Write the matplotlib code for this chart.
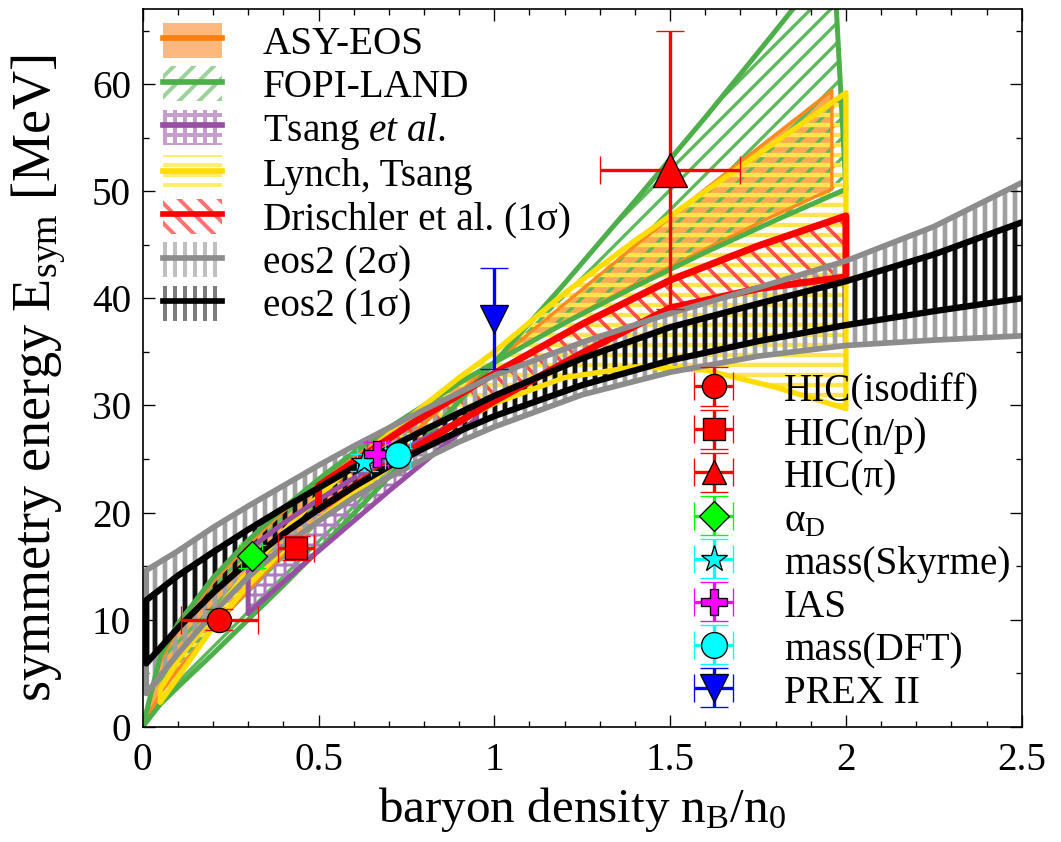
import numpy as np
import matplotlib
matplotlib.use("Agg")
from matplotlib import pyplot as plt
from matplotlib.patches import Patch
from matplotlib.lines import Line2D
from matplotlib.legend_handler import HandlerErrorbar
from matplotlib.ticker import MultipleLocator, FormatStrFormatter

plt.rcParams["font.family"] = ["Liberation Serif", "DejaVu Serif"]
plt.rcParams["mathtext.fontset"] = "custom"
plt.rcParams["mathtext.rm"] = "Liberation Serif"
plt.rcParams["mathtext.it"] = "Liberation Serif:italic"
plt.rcParams["hatch.linewidth"] = 2.4

# ============================================================================
# Data (density in units of n0, Esym in MeV)
# ============================================================================

# eos2 bands (2 sigma / 1 sigma)
eos_n = [0.01, 0.1, 0.2, 0.3, 0.4, 0.5, 0.6, 0.7, 0.8, 0.9, 1.0,
         1.25, 1.5, 1.75, 2.0, 2.25, 2.5]
eos2_2s_hi = [14.6, 16.4, 18.6, 20.6, 22.5, 24.4, 26.2, 27.9, 29.6, 31.2, 32.8,
              35.9, 38.6, 41.0, 43.5, 46.7, 50.8]
eos2_2s_lo = [3.1, 6.8, 10.6, 14.0, 16.8, 19.2, 21.4, 23.3, 25.0, 26.6, 28.0,
              31.0, 33.1, 34.6, 35.6, 36.1, 36.5]
eos2_1s_hi = [11.8, 14.1, 16.3, 18.4, 20.4, 22.3, 24.2, 26.0, 27.7, 29.3, 30.9,
              34.4, 37.3, 39.5, 41.6, 44.1, 47.1]
eos2_1s_lo = [5.9, 9.2, 12.5, 15.4, 18.0, 20.3, 22.4, 24.3, 26.0, 27.6, 29.0,
              31.9, 34.2, 36.0, 37.5, 38.8, 40.0]

# ASY-EOS
asy_n = [0.0, 0.05, 0.1, 0.2, 0.3, 0.4, 0.5, 0.6, 0.7, 0.8, 0.9, 1.0,
         1.2, 1.4, 1.6, 1.8, 1.96]
asy_soft = [0.0, 6.1, 9.1, 13.5, 17.0, 20.1, 22.8, 25.3, 27.7, 29.9, 32.0, 34.0,
            37.8, 41.3, 44.6, 47.8, 50.2]
asy_stiff = [0.0, 3.1, 5.3, 9.2, 12.7, 16.1, 19.3, 22.4, 25.4, 28.3, 31.2, 34.0,
             39.5, 44.9, 50.2, 55.3, 59.4]

# FOPI-LAND
fopi_n_soft = [0.0, 0.05, 0.1, 0.2, 0.3, 0.4, 0.5, 0.6, 0.7, 0.8, 0.9, 1.0,
               1.2, 1.4, 1.6, 1.8, 2.0]
fopi_soft = [0.0, 6.6, 9.6, 13.9, 17.4, 20.4, 23.1, 25.6, 27.9, 30.0, 32.1, 34.0,
             37.7, 41.1, 44.3, 47.3, 50.2]
fopi_n_stiff = [0.0, 0.05, 0.1, 0.2, 0.3, 0.4, 0.5, 0.6, 0.7, 0.8, 0.9, 1.0,
                1.2, 1.4, 1.6, 1.8, 1.965]
fopi_stiff = [0.0, 2.1, 3.7, 6.8, 10.0, 13.2, 16.5, 19.9, 23.3, 26.8, 30.4, 34.0,
              41.4, 49.1, 56.9, 65.0, 71.8]

# Tsang et al.
tsang_n = [0.3, 0.4, 0.5, 0.6, 0.7, 0.8, 0.95]
tsang_hi = [16.5, 19.0, 21.2, 23.2, 25.1, 26.9, 29.4]
tsang_lo = [10.6, 13.5, 16.4, 19.2, 22.0, 24.7, 28.8]

# Lynch, Tsang
lynch_n = [0.05, 0.1, 0.2, 0.3, 0.4, 0.5, 0.6, 0.7, 0.8, 0.9, 1.0,
           1.2, 1.4, 1.6, 1.8, 2.0]
lynch_hi = [3.5, 6.2, 10.5, 14.5, 18.2, 21.5, 24.5, 27.3, 30.0, 32.6, 35.0,
            40.5, 45.4, 50.0, 54.6, 59.2]
lynch_lo = [2.3, 4.6, 9.3, 13.2, 16.5, 19.3, 21.8, 24.2, 26.4, 28.4, 30.2,
            32.6, 33.6, 33.3, 31.7, 29.7]

# Drischler et al. (1 sigma)
dr_n = [0.5, 0.75, 1.0, 1.25, 1.5, 1.75, 2.0]
dr_hi = [22.5, 28.0, 33.0, 37.6, 41.7, 44.9, 47.7]
dr_lo = [20.3, 25.6, 30.4, 34.9, 39.1, 40.9, 42.0]

# experimental points
pt_labels = ["HIC(isodiff)", "HIC(n/p)", "HIC(\u03c0)", "\u03b1$_{\\rm D}$",
             "mass(Skyrme)", "IAS", "mass(DFT)", "PREX II"]
pt_x = [0.218, 0.436, 1.50, 0.31, 0.63, 0.667, 0.725, 1.00]
pt_y = [10.0, 16.7, 52.0, 15.9, 24.7, 25.5, 25.4, 38.1]
pt_xerr = [0.11, 0.05, 0.20, 0.03, 0.02, 0.03, 0.035, 0.0]
pt_yerr = [1.0, 1.1, 13.0, 1.1, 0.8, 1.1, 0.6, 4.7]

pt_marker = ["o", "s", "^", "D", "*", "P", "o", "v"]
pt_color = ["#FF0000", "#FF0000", "#FF0000", "#00FF00",
            "#00FFFF", "#FF00FF", "#00FFFF", "#0000FF"]
pt_size = [14.5, 13.5, 20, 13, 17, 16, 15.5, 17]

# ============================================================================
# Figure
# ============================================================================

DPI = 120
FS = 23.5
fig = plt.figure(figsize=(1061 / DPI, 842 / DPI), dpi=DPI)
ax = fig.add_axes([0.1345, 0.137, 0.8285, 0.852])


def band(x_lo, y_lo, x_hi, y_hi, color, lw, hatch=None, hatch_color=None,
         hatch_lw=2.0, fill=None, alpha=1.0, closed=True):
    """Outline + optional fill/hatching between a lower and an upper curve."""
    xs = list(x_lo) + list(x_hi)[::-1]
    ys = list(y_lo) + list(y_hi)[::-1]
    if fill is not None:
        ax.fill(xs, ys, facecolor=fill, edgecolor="none", alpha=alpha)
    if hatch is not None:
        p, = ax.fill(xs, ys, facecolor="none", edgecolor=hatch_color,
                     hatch=hatch, linewidth=0)
        if hasattr(p, "set_hatch_linewidth"):
            p.set_hatch_linewidth(hatch_lw)
    if closed:
        ox, oy = xs + xs[:1], ys + ys[:1]
    else:
        ox = list(x_lo)[::-1] + list(x_hi)
        oy = list(y_lo)[::-1] + list(y_hi)
    ax.plot(ox, oy, color=color, lw=lw, solid_joinstyle="round",
            solid_capstyle="round")


band(asy_n, asy_soft, asy_n, asy_stiff, "#FF8A1F", 2.0,
     fill="#FF8C1A", alpha=0.75)
band(fopi_n_soft, fopi_soft, fopi_n_stiff, fopi_stiff, "#4DAF4A", 3.0,
     hatch="//", hatch_color="#5DB85A", hatch_lw=2.0)
band(lynch_n, lynch_lo, lynch_n, lynch_hi, "#FFDD00", 3.2,
     hatch="--", hatch_color="#FFE44D", hatch_lw=2.6)
band(tsang_n, tsang_lo, tsang_n, tsang_hi, "#984EA3", 3.0,
     hatch="++", hatch_color="#B07CC0", hatch_lw=1.8)
band(dr_n, dr_lo, dr_n, dr_hi, "#FF0000", 4.2,
     hatch="\\\\", hatch_color="#FF4D4D", hatch_lw=2.2)
band(eos_n, eos2_2s_lo, eos_n, eos2_2s_hi, "#8C8C8C", 3.4,
     hatch="||", hatch_color="#A0A0A0", hatch_lw=2.8, closed=False)
band(eos_n, eos2_1s_lo, eos_n, eos2_1s_hi, "#000000", 3.8,
     hatch="||", hatch_color="#111111", hatch_lw=2.8, closed=False)

containers = []
for i in range(len(pt_x)):
    eb = ax.errorbar(pt_x[i], pt_y[i], xerr=pt_xerr[i], yerr=pt_yerr[i],
                     fmt=pt_marker[i], ms=pt_size[i], mfc=pt_color[i],
                     mec="black", mew=0.8, ecolor=pt_color[i], elinewidth=2.0,
                     capsize=8.5, capthick=2.0, zorder=10)
    containers.append(eb)

ax.set_xlim(0, 2.5)
ax.set_ylim(0, 67)
ax.xaxis.set_major_locator(MultipleLocator(0.5))
ax.xaxis.set_minor_locator(MultipleLocator(0.1))
ax.yaxis.set_major_locator(MultipleLocator(10))
ax.yaxis.set_minor_locator(MultipleLocator(5))
ax.xaxis.set_major_formatter(FormatStrFormatter("%g"))
ax.tick_params(which="both", direction="in", top=True, right=True,
               width=0.8, labelsize=FS)
ax.tick_params(which="major", length=7.2)
ax.tick_params(which="minor", length=3.6)
ax.tick_params(axis="x", pad=9)
ax.tick_params(axis="y", pad=7)
for s in ax.spines.values():
    s.set_linewidth(1.0)

ax.set_xlabel("baryon density n$_{\\rm B}$/n$_{0}$", fontsize=29.5, labelpad=4)
ax.set_ylabel("symmetry energy E$_{\\rm sym}$ [MeV]", fontsize=32.5)
ax.yaxis.set_label_coords(-0.085, 0.486)

# legend for the bands
def hpatch(color, hatch, lw):
    p = Patch(facecolor="none", edgecolor=color, hatch=hatch, lw=0, alpha=0.55)
    if hasattr(p, "set_hatch_linewidth"):
        p.set_hatch_linewidth(lw)
    return p

band_handles = [
    (Patch(facecolor="#FDB97D", edgecolor="none"), Line2D([], [], color="#FF7F0E", lw=3.4)),
    (hpatch("#4DAF4A", "//", 2.0), Line2D([], [], color="#4DAF4A", lw=3.4)),
    (hpatch("#984EA3", "++", 1.8), Line2D([], [], color="#984EA3", lw=3.4)),
    (hpatch("#FFDD00", "--", 2.4), Line2D([], [], color="#FFDD00", lw=3.4)),
    (hpatch("#FF0000", "\\\\", 2.2), Line2D([], [], color="#FF0000", lw=3.4)),
    (hpatch("#8C8C8C", "||", 2.8), Line2D([], [], color="#8C8C8C", lw=3.4)),
    (hpatch("#111111", "||", 2.8), Line2D([], [], color="#000000", lw=3.4)),
]
band_labels = ["ASY-EOS", "FOPI-LAND", "Tsang $\\it{et\\ al.}$", "Lynch, Tsang",
               "Drischler et al. (1\u03c3)", "eos2 (2\u03c3)", "eos2 (1\u03c3)"]
leg1 = ax.legend(band_handles, band_labels, loc="upper left",
                 bbox_to_anchor=(0.023, 0.981), frameon=False, fontsize=FS,
                 handlelength=1.5, handleheight=1.0, handletextpad=1.05,
                 labelspacing=0.09, borderpad=0, borderaxespad=0)
ax.add_artist(leg1)


def shrink_marker(h, orig):
    h.update_from(orig)
    if isinstance(h, Line2D) and h.get_marker() == "^":
        h.set_markersize(14.5)


hmap = {containers[2]: HandlerErrorbar(update_func=shrink_marker)}
leg2 = ax.legend(containers, pt_labels, loc="upper left",
                 bbox_to_anchor=(0.616, 0.496), frameon=False, fontsize=FS,
                 handlelength=1.5, handleheight=1.0, handletextpad=1.05,
                 labelspacing=0.08, borderpad=0, borderaxespad=0,
                 numpoints=1, handler_map=hmap)

fig.savefig("out.png", dpi=DPI)
